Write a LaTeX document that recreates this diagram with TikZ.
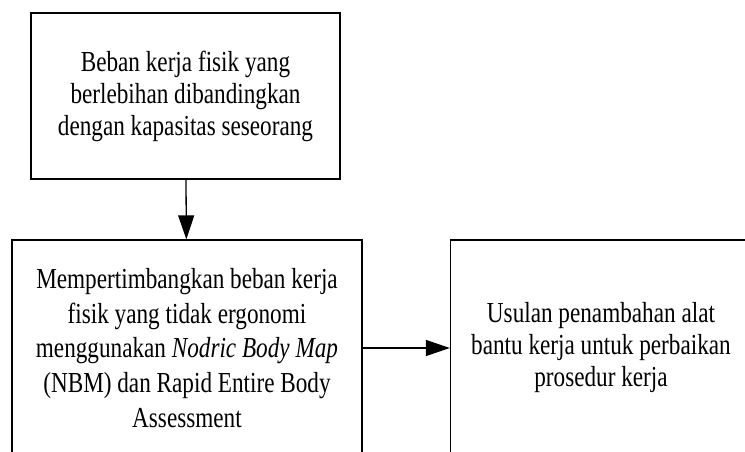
\documentclass[tikz,border=0pt]{standalone}
\usepackage{fontspec}
\setmainfont[FakeStretch=0.8]{Liberation Serif}
\usetikzlibrary{arrows.meta}
\begin{document}
\begin{tikzpicture}[x=1pt,y=-1pt,
  box/.style={draw=black, line width=1.3pt, rectangle, align=center, inner sep=0pt},
  conn/.style={line width=1.3pt, -{Triangle[length=24pt,width=16pt]}}]
\useasboundingbox (0,0) rectangle (745,452);
\node[box, minimum width=309pt, minimum height=166pt, font=\fontsize{29}{32}\selectfont] (top) at (185.5,96)
  {Beban kerja fisik yang\\berlebihan dibandingkan\\dengan kapasitas seseorang};
\node[box, minimum width=350pt, minimum height=216pt, font=\fontsize{29}{34.7}\selectfont] (mid) at (187,348)
  {Mempertimbangkan beban kerja\\fisik yang tidak ergonomi\\menggunakan \textit{Nodric Body Map}\\(NBM) dan Rapid Entire Body\\Assessment};
\node[box, minimum width=301pt, minimum height=216pt, font=\fontsize{29}{32}\selectfont] (right) at (601,348)
  {Usulan penambahan alat\\bantu kerja untuk perbaikan\\prosedur kerja};
\draw[conn] (top) -- (mid);
\draw[conn] (mid) -- (right);
\end{tikzpicture}
\end{document}
